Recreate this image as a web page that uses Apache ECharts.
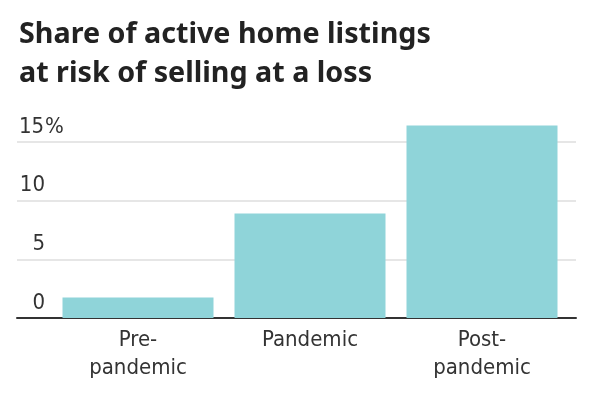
<!DOCTYPE html>
<html>
<head>
<meta charset="utf-8">
<script src="https://cdn.jsdelivr.net/npm/echarts@6/dist/echarts.min.js"></script>
<style>
  html, body { margin: 0; padding: 0; background: #fff; }
  #chart { width: 596px; height: 397px; }
</style>
</head>
<body>
<div id="chart"></div>
<script>
// data
var categories = ["Pre-\npandemic", "Pandemic", "Post-\npandemic"];
var shareValues = [1.75, 8.9, 16.4];
var yTicks = [0, 5, 10, 15];

var labelFont = "'DejaVu Sans Condensed', 'DejaVu Sans', sans-serif";
var chart = echarts.init(document.getElementById("chart"));

var option = {
    animation: false,
    backgroundColor: "#fff",
    title: {
        text: "Share of active home listings\nat risk of selling at a loss",
        left: 14, top: 10,
        textStyle: {
            fontFamily: "'Noto Sans', sans-serif",
            fontWeight: "bold",
            fontSize: 28.7,
            lineHeight: 39,
            color: "#222"
        }
    },
    grid: [
        // wide grid: gridlines, baseline and y labels
        {left: 17, right: 20, top: 142, bottom: 79},
        // narrower grid: bars and category labels
        {left: 52, right: 28, top: 142, bottom: 79}
    ],
    xAxis: [
        {
            gridIndex: 0, type: "value", min: 0, max: 1,
            axisLine: {show: true, lineStyle: {color: "#333", width: 2}},
            axisTick: {show: false}, axisLabel: {show: false}, splitLine: {show: false}
        },
        {
            gridIndex: 1, type: "category", data: categories,
            axisLine: {show: false}, axisTick: {show: false},
            axisLabel: {
                margin: 8,
                fontFamily: labelFont, fontSize: 22, lineHeight: 28, color: "#333"
            }
        }
    ],
    yAxis: [
        {
            gridIndex: 0, type: "value", min: 0, max: 15, interval: 5,
            axisLine: {show: false}, axisTick: {show: false},
            splitLine: {lineStyle: {color: "#e6e6e6", width: 2}},
            axisLabel: {
                inside: true,
                margin: 1,
                verticalAlign: "bottom",
                formatter: function (v) {
                    if (yTicks.indexOf(v) < 0) return "";
                    return "{n|" + v + "}" + (v === 15 ? "{p|%}" : "");
                },
                rich: {
                    n: {width: 27, align: "right", fontFamily: labelFont, fontSize: 22, lineHeight: 30, color: "#333"},
                    p: {fontFamily: labelFont, fontSize: 22, lineHeight: 30, color: "#333"}
                }
            }
        },
        {
            gridIndex: 1, type: "value", min: 0, max: 15, interval: 5, show: false
        }
    ],
    series: [
        {
            type: "bar",
            xAxisIndex: 1, yAxisIndex: 1,
            data: shareValues,
            barWidth: 151,
            clip: false,
            itemStyle: {color: "#8fd4d9"}
        }
    ]
};
chart.setOption(option);
</script>
</body>
</html>
